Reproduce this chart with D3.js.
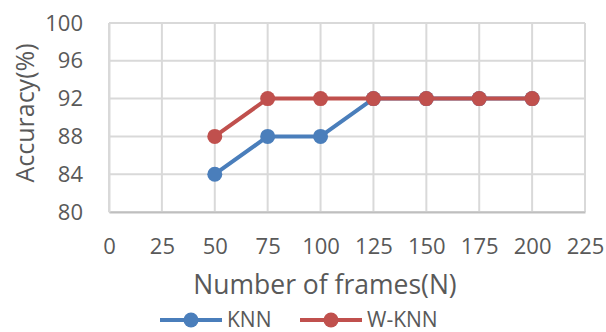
<!DOCTYPE html>
<html>
<head>
<meta charset="utf-8">
<script src="https://cdn.jsdelivr.net/npm/d3@7"></script>
<style>
  html, body { margin: 0; padding: 0; background: #fff; }
  svg { display: block; }
  text { font-family: "Open Sans", sans-serif; fill: #595959; }
</style>
</head>
<body>
<svg id="chart" width="606" height="332"></svg>
<script>
// Accuracy vs. number of frames for the two classifiers
const frames = [50, 75, 100, 125, 150, 175, 200];
const knn = [84, 88, 88, 92, 92, 92, 92];
const wknn = [88, 92, 92, 92, 92, 92, 92];
const xTicks = [0, 25, 50, 75, 100, 125, 150, 175, 200, 225];
const yTicks = [80, 84, 88, 92, 96, 100];
const seriesNames = ["KNN", "W-KNN"];
const seriesColors = ["#4a7ebb", "#c0504d"];

const svg = d3.select("#chart");
const plot = { left: 109, right: 585, top: 23, bottom: 212 };

const x = d3.scaleLinear().domain([0, 225]).range([plot.left, plot.right]);
const y = d3.scaleLinear().domain([80, 100]).range([plot.bottom, plot.top]);

// grid
const grid = svg.append("g");
grid.selectAll("line.h").data(yTicks).join("line")
  .attr("x1", plot.left).attr("x2", plot.right)
  .attr("y1", d => y(d)).attr("y2", d => y(d))
  .attr("stroke", "#d9d9d9").attr("stroke-width", 2);
grid.selectAll("line.v").data(xTicks).join("line")
  .attr("y1", plot.top).attr("y2", plot.bottom)
  .attr("x1", d => x(d)).attr("x2", d => x(d))
  .attr("stroke", "#d9d9d9").attr("stroke-width", 2);

// axes
const xAxis = svg.append("g")
  .attr("transform", `translate(0,${plot.bottom})`)
  .call(d3.axisBottom(x).tickValues(xTicks).tickSize(0).tickPadding(26));
xAxis.select(".domain").attr("stroke", "#bfbfbf").attr("stroke-width", 2);
xAxis.selectAll("text").attr("font-size", 22).attr("fill", "#595959")
  .style("font-family", "'Open Sans', sans-serif");

const yAxis = svg.append("g")
  .attr("transform", `translate(${plot.left},0)`)
  .call(d3.axisLeft(y).tickValues(yTicks).tickSize(0).tickPadding(26));
yAxis.select(".domain").attr("stroke", "#d9d9d9").attr("stroke-width", 2);
yAxis.selectAll("text").attr("font-size", 22).attr("fill", "#595959")
  .style("font-family", "'Open Sans', sans-serif");

// series
const series = [knn, wknn];
const line = d3.line().x((d, i) => x(frames[i])).y(d => y(d));
series.forEach((vals, s) => {
  const g = svg.append("g");
  g.append("path").datum(vals)
    .attr("d", line).attr("fill", "none")
    .attr("stroke", seriesColors[s]).attr("stroke-width", 4)
    .attr("stroke-linejoin", "round");
  g.selectAll("circle").data(vals).join("circle")
    .attr("cx", (d, i) => x(frames[i])).attr("cy", d => y(d))
    .attr("r", 7.5).attr("fill", seriesColors[s]);
});

// axis titles
svg.append("text")
  .attr("x", 325).attr("y", 294)
  .attr("text-anchor", "middle").attr("font-size", 26.5)
  .text("Number of frames(N)");
svg.append("text")
  .attr("transform", "translate(34,113) rotate(-90)")
  .attr("text-anchor", "middle").attr("font-size", 25)
  .text("Accuracy(%)");

// legend
const legendX = [160, 300];
const legend = svg.append("g");
seriesNames.forEach((name, s) => {
  const lg = legend.append("g").attr("transform", `translate(${legendX[s]},320)`);
  lg.append("line").attr("x1", 0).attr("x2", 62).attr("y1", 0).attr("y2", 0)
    .attr("stroke", seriesColors[s]).attr("stroke-width", 4);
  lg.append("circle").attr("cx", 31).attr("cy", 0).attr("r", 7.5)
    .attr("fill", seriesColors[s]);
  lg.append("text").attr("x", 67).attr("y", 7).attr("font-size", 21)
    .text(name);
});
</script>
</body>
</html>
